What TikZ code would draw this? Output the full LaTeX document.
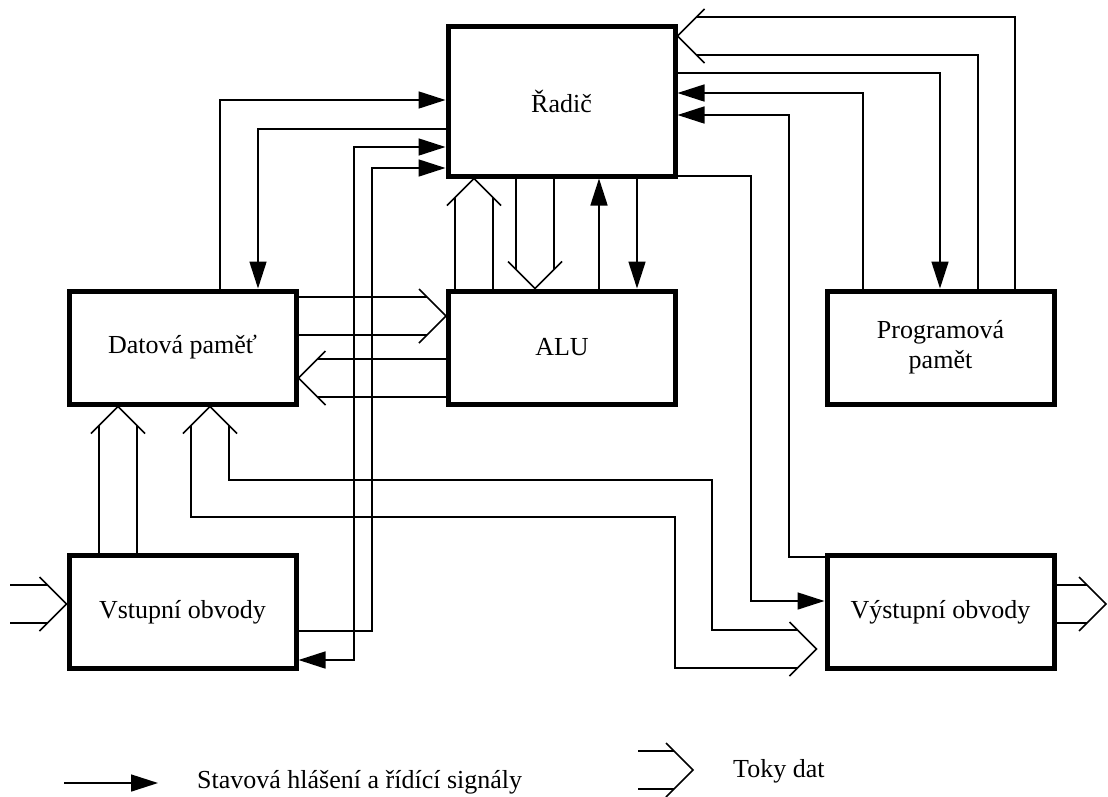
\documentclass[tikz,border=0pt]{standalone}
\usepackage{fontspec}
\setmainfont{Liberation Serif}
\usetikzlibrary{arrows.meta,calc}
\newcommand{\dchev}[2]{\draw[dline,shift={#1},rotate=#2] (-27,27) -- (0,0) -- (-27,-27);}
\begin{document}
\begin{tikzpicture}[x=1pt,y=-1pt,
  box/.style={draw,line width=5pt,minimum width=227pt,minimum height=113pt,inner sep=0pt,
    font=\fontsize{26}{30}\selectfont,align=center},
  ctl/.style={line width=1.6pt,-{Triangle[length=27pt,width=17pt]}},
  ctlboth/.style={line width=1.6pt,{Triangle[length=27pt,width=17pt]}-{Triangle[length=27pt,width=17pt]}},
  dline/.style={line width=1.6pt},
  lbl/.style={font=\fontsize{26}{30}\selectfont,inner sep=0pt}
]
\useasboundingbox (0,0) rectangle (1108,796);

% boxes
\node[box,minimum height=150pt] (rad) at (561.5,101) {Řadič};
\node[box] (dat) at (182.5,347.5) {Datová paměť};
\node[box] (alu) at (562,347.5) {ALU};
\node[box] (prg) at (940.5,347.5) {Programová\\pamět};
\node[box] (vst) at (182.5,612) {Vstupní obvody};
\node[box] (vys) at (940.5,612) {Výstupní obvody};

% control / status signals
\draw[ctl] (dat.north -| 220,0) |- (rad.west |- 0,100);
\draw[ctl] (rad.west |- 0,129) -| (dat.north -| 258,0);
\draw[ctlboth] (vst.east |- 0,660) -| (354,147) -- (rad.west |- 0,147);
\draw[ctl] (vst.east |- 0,631) -| (372,168) -- (rad.west |- 0,168);
\draw[ctl] (alu.north -| 599,0) -- (rad.south -| 599,0);
\draw[ctl] (rad.south -| 637,0) -- (alu.north -| 637,0);
\draw[ctl] (rad.east |- 0,73) -| (prg.north -| 940,0);
\draw[ctl] (prg.north -| 863,0) |- (rad.east |- 0,93);
\draw[ctl] (vys.west |- 0,557) -| (789,115) -- (rad.east |- 0,115);
\draw[ctl] (rad.east |- 0,176) -| (751,601) -- (vys.west |- 0,601);

% data flows
% Programova -> Radic
\draw[dline] (prg.north -| 1015,0) |- ($(rad.east |- 0,17)+(19,0)$);
\draw[dline] (prg.north -| 978,0) |- ($(rad.east |- 0,55)+(19,0)$);
\dchev{(rad.east |- 0,36)}{180}
% ALU -> Radic
\draw[dline] (alu.north -| 455,0) -- ($(rad.south -| 455,0)+(0,19)$);
\draw[dline] (alu.north -| 493,0) -- ($(rad.south -| 493,0)+(0,19)$);
\dchev{(rad.south -| 474,0)}{90}
% Radic -> ALU
\draw[dline] (rad.south -| 516,0) -- ($(alu.north -| 516,0)+(0,-19)$);
\draw[dline] (rad.south -| 554,0) -- ($(alu.north -| 554,0)+(0,-19)$);
\dchev{(alu.north -| 535,0)}{-90}
% Datova -> ALU
\draw[dline] (dat.east |- 0,297) -- ($(alu.west |- 0,297)+(-19,0)$);
\draw[dline] (dat.east |- 0,335) -- ($(alu.west |- 0,335)+(-19,0)$);
\dchev{(alu.west |- 0,316)}{0}
% ALU -> Datova
\draw[dline] (alu.west |- 0,359) -- ($(dat.east |- 0,359)+(19,0)$);
\draw[dline] (alu.west |- 0,397) -- ($(dat.east |- 0,397)+(19,0)$);
\dchev{(dat.east |- 0,378)}{180}
% Vstupni -> Datova
\draw[dline] (vst.north -| 99,0) -- ($(dat.south -| 99,0)+(0,19)$);
\draw[dline] (vst.north -| 137,0) -- ($(dat.south -| 137,0)+(0,19)$);
\dchev{(dat.south -| 118,0)}{90}
% Datova <-> Vystupni
\draw[dline] ($(dat.south -| 229,0)+(0,19)$) |- (712,480) |- ($(vys.west |- 0,630)+(-27,0)$);
\draw[dline] ($(dat.south -| 191,0)+(0,19)$) |- (675,517) |- ($(vys.west |- 0,668)+(-27,0)$);
\dchev{(dat.south -| 210,0)}{90}
\dchev{($(vys.west |- 0,649)+(-8,0)$)}{0}
% input
\coordinate (in1) at (10,585);
\coordinate (in2) at (10,623);
\draw[dline] (in1) -- ($(vst.west |- in1)+(-19,0)$);
\draw[dline] (in2) -- ($(vst.west |- in2)+(-19,0)$);
\dchev{(vst.west |- 0,604)}{0}
% output
\coordinate (out1) at (1087,585);
\coordinate (out2) at (1087,623);
\coordinate (outtip) at (1106,604);
\draw[dline] (vys.east |- out1) -- (out1);
\draw[dline] (vys.east |- out2) -- (out2);
\dchev{(outtip)}{0}

% legend
\coordinate (lg1) at (64,783);
\coordinate (lg2) at (158,783);
\draw[ctl] (lg1) -- (lg2);
\node[lbl,anchor=base west] (lgt1) at (197,788) {Stavová hlášení a řídící signály};
\coordinate (ld1) at (638,751);
\coordinate (ld2) at (638,789);
\coordinate (ldtip) at (693,770);
\draw[dline] (ld1) -- ++(36,0);
\draw[dline] (ld2) -- ++(36,0);
\dchev{(ldtip)}{0}
\node[lbl,anchor=base west] (lgt2) at (733,777) {Toky dat};
\end{tikzpicture}
\end{document}
